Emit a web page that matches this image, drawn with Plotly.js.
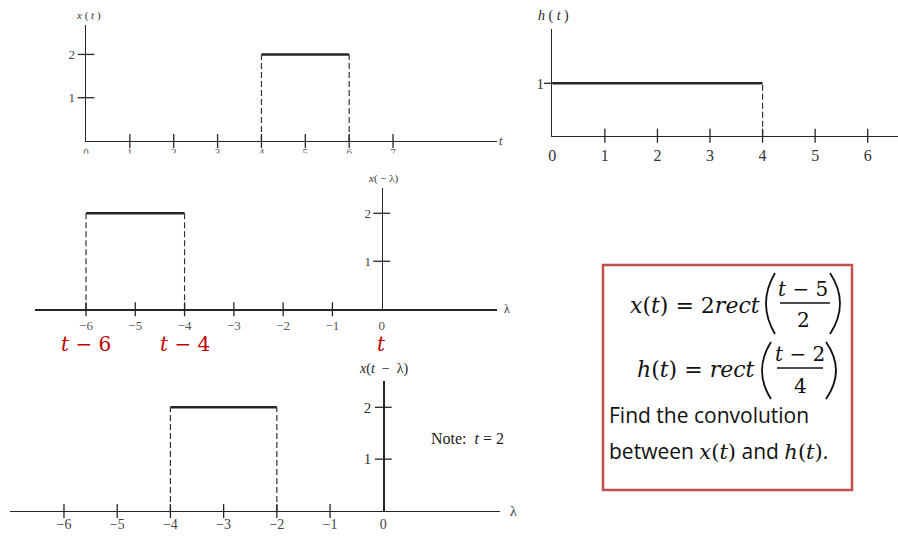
<!DOCTYPE html>
<html>
<head>
<meta charset="utf-8">
<script src="https://cdn.plot.ly/plotly-3.0.1.min.js"></script>
<style>
  html, body { margin: 0; padding: 0; background: #fff; }
  #chart { width: 898px; height: 539px; }
</style>
</head>
<body>
<div id="chart"></div>
<script>
// ---- signal data ----
// x(t) = 2 rect((t-5)/2)
const xEdges = [4, 6];
const xLevel = 2;
const xTicks = [0, 1, 2, 3, 4, 5, 6, 7];
const xYTicks = [1, 2];

// h(t) = rect((t-2)/4)
const hEdges = [0, 4];
const hLevel = 1;
const hTicks = [0, 1, 2, 3, 4, 5, 6];
const hYTicks = [1];

// x(-lambda)
const revEdges = [-6, -4];
const revLevel = 2;
const lamTicks = [-6, -5, -4, -3, -2, -1, 0];
const lamTickText = ['\u22126', '\u22125', '\u22124', '\u22123', '\u22122', '\u22121', '0'];
const revYTicks = [1, 2];

// x(t - lambda) for t = 2
const shiftEdges = [-4, -2];
const shiftLevel = 2;
const shiftYTicks = [1, 2];

// red markers of the reflected pulse edges
const redPos = [-6, -4, 0];
const redText = ['<i>t</i> \u2212 6', '<i>t</i> \u2212 4', '<i>t</i>'];

// ---- helpers ----
const W = 898, H = 539;
const fx = p => p / W;
const fy = p => 1 - p / H;
const INK = '#262626';
const SERIF = 'Liberation Serif, Times New Roman, serif';
const MATH = "'DejaVu Serif', serif";

function pulse(edges, level, xa, ya) {
  // dashed drops are skipped where they would sit on the vertical axis
  const drops = edges.filter(e => e !== 0);
  const dx = [], dy = [];
  drops.forEach((e, i) => { if (i) { dx.push(null); dy.push(null); } dx.push(e, e); dy.push(0, level); });
  return [
    { x: edges, y: [level, level], xaxis: xa, yaxis: ya, mode: 'lines',
      line: { color: INK, width: 2.6 }, cliponaxis: false },
    { x: dx, y: dy, xaxis: xa, yaxis: ya, mode: 'lines',
      line: { color: '#333', width: 1.2, dash: '6px,3px' }, cliponaxis: false }
  ];
}
function xMarks(vals, xa, ya) {
  const v = vals.filter(t => t !== 0);
  return { x: v, y: v.map(() => 0), xaxis: xa, yaxis: ya, mode: 'markers', cliponaxis: false,
    marker: { symbol: 'line-ns', size: 10, color: INK, line: { width: 1.3, color: INK } } };
}
function yMarks(vals, xa, ya) {
  return { x: vals.map(() => 0), y: vals, xaxis: xa, yaxis: ya, mode: 'markers', cliponaxis: false,
    marker: { symbol: 'line-ew', size: 12, color: INK, line: { width: 1.3, color: INK } } };
}

const traces = [
  ...pulse(xEdges, xLevel, 'x', 'y'), xMarks(xTicks, 'x', 'y'), yMarks(xYTicks, 'x', 'y'),
  ...pulse(hEdges, hLevel, 'x2', 'y2'), xMarks(hTicks, 'x2', 'y2'), yMarks(hYTicks, 'x2', 'y2'),
  ...pulse(revEdges, revLevel, 'x3', 'y3'), xMarks(lamTicks, 'x3', 'y3'), yMarks(revYTicks, 'x3', 'y3'),
  ...pulse(shiftEdges, shiftLevel, 'x4', 'y4'), xMarks(lamTicks, 'x4', 'y4'), yMarks(shiftYTicks, 'x4', 'y4')
];

function axBase(extra) {
  return Object.assign({
    showgrid: false, zeroline: false, showline: true, linecolor: INK, linewidth: 1.4,
    ticks: 'outside', tickcolor: 'rgba(0,0,0,0)', fixedrange: true
  }, extra);
}

const layout = {
  width: W, height: H,
  margin: { l: 0, r: 0, t: 0, b: 0 },
  paper_bgcolor: '#fff', plot_bgcolor: 'rgba(0,0,0,0)',
  showlegend: false, hovermode: false,
  // x(t)
  xaxis: axBase({ domain: [fx(86), fx(497)], range: [0, 9.37], anchor: 'y',
    tickvals: xTicks, ticklen: 0, tickfont: { family: SERIF, size: 11, color: '#555' } }),
  yaxis: axBase({ domain: [fy(141), fy(25)], range: [0, 2.68], anchor: 'x',
    tickvals: xYTicks, ticklen: 7, tickfont: { family: SERIF, size: 13, color: '#444' } }),
  // h(t)
  xaxis2: axBase({ domain: [fx(552.3), 1], range: [0, 6.576], anchor: 'y2',
    tickvals: hTicks, ticklen: 5, tickfont: { family: SERIF, size: 16, color: '#333' } }),
  yaxis2: axBase({ domain: [fy(135.7), fy(29)], range: [0, 2.036], anchor: 'x2',
    tickvals: hYTicks, ticklen: 4, tickfont: { family: SERIF, size: 15, color: '#333' } }),
  // x(-lambda)
  xaxis3: axBase({ domain: [fx(35), fx(497)], range: [-7.035, 2.34], anchor: 'y3',
    tickvals: lamTicks, ticktext: lamTickText, ticklen: 4, tickfont: { family: SERIF, size: 13, color: '#555' } }),
  yaxis3: axBase({ domain: [fy(309.3), fy(187.7)], range: [0, 2.533], anchor: 'free', position: fx(381.7),
    tickvals: revYTicks, ticklen: 8, tickfont: { family: SERIF, size: 13, color: '#444' } }),
  // x(t - lambda)
  xaxis4: axBase({ domain: [fx(10), fx(500)], range: [-7.014, 2.193], anchor: 'y4',
    tickvals: lamTicks, ticktext: lamTickText, ticklen: 0, tickfont: { family: SERIF, size: 14, color: '#444' } }),
  yaxis4: axBase({ domain: [fy(511), fy(381)], range: [0, 2.507], anchor: 'free', position: fx(383.3),
    tickvals: shiftYTicks, ticklen: 9, tickfont: { family: SERIF, size: 15, color: '#333' } }),
  shapes: [],
  annotations: []
};

const ann = (px, py, text, size, opts) => Object.assign({
  xref: 'paper', yref: 'paper', x: fx(px), y: fy(py), text: text, showarrow: false,
  xanchor: 'center', yanchor: 'middle', font: { family: SERIF, size: size, color: '#333' }
}, opts || {});

// axis names
layout.annotations.push(
  ann(88, 15, '<i>x</i> ( <i>t</i> )', 11),
  ann(501, 141, '<i>t</i>', 12),
  ann(553, 16, '<i>h</i> ( <i>t</i> )', 14, { font: { family: SERIF, size: 14, color: '#222' } }),
  ann(383, 178, '<i>x</i>( \u2212 \u03bb)', 11),
  ann(507, 309, '\u03bb', 12),
  ann(383, 369, '<i>x</i>(<i>t</i>  \u2212  \u03bb)', 14, { font: { family: SERIF, size: 14, color: '#222' } }),
  ann(513, 511, '\u03bb', 14),
  ann(467, 438, 'Note:  <i>t</i> = 2', 16, { font: { family: SERIF, size: 16, color: '#222' } })
);

// red edge labels on the lambda axis
redPos.forEach((v, i) => layout.annotations.push({
  xref: 'x3', yref: 'paper', x: v, y: fy(344), text: redText[i], showarrow: false,
  xanchor: 'center', yanchor: 'middle', font: { family: MATH, size: 20, color: '#c00000' }
}));

// the top plot's tick numbers are cut through by the page edge
layout.shapes.push({ type: 'rect', xref: 'paper', yref: 'paper', layer: 'above',
  x0: fx(65), x1: fx(420), y0: fy(153.5), y1: fy(166), fillcolor: '#fff', line: { width: 0 } });

// problem statement box
layout.shapes.push({ type: 'rect', xref: 'paper', yref: 'paper',
  x0: fx(603), x1: fx(852), y0: fy(265), y1: fy(490),
  line: { color: '#c0504d', width: 2.5 }, fillcolor: 'rgba(0,0,0,0)' });

function paren(xTop, xMid, yTop, yBot) {
  const ym = (yTop + yBot) / 2;
  const cx = 2 * xMid - xTop;
  return { type: 'path', xref: 'paper', yref: 'paper',
    path: `M ${fx(xTop)} ${fy(yTop)} Q ${fx(cx)} ${fy(ym)} ${fx(xTop)} ${fy(yBot)}`,
    line: { color: '#111', width: 1.8 } };
}
function bar(x0, x1, y) {
  return { type: 'line', xref: 'paper', yref: 'paper', x0: fx(x0), x1: fx(x1), y0: fy(y), y1: fy(y),
    line: { color: '#111', width: 1.6 } };
}
layout.shapes.push(
  paren(775, 766, 273, 334), paren(830, 840, 273, 334), bar(780, 830, 303),
  paren(771, 762, 342, 399), paren(826, 836, 342, 399), bar(777, 823, 368)
);

const mathFont = s => ({ family: MATH, size: s, color: '#111' });
const SANS = "'Open Sans', sans-serif";
layout.annotations.push(
  ann(628, 305, '<i>x</i>(<i>t</i>) = 2<i>rect</i>', 22, { xanchor: 'left', font: mathFont(22) }),
  ann(803, 289, '<i>t</i> \u2212 5', 20, { font: mathFont(20) }),
  ann(803, 320, '2', 20, { font: mathFont(20) }),
  ann(635, 369, '<i>h</i>(<i>t</i>) = <i>rect</i>', 22, { xanchor: 'left', font: mathFont(22) }),
  ann(800, 354, '<i>t</i> \u2212 2', 20, { font: mathFont(20) }),
  ann(800, 386, '4', 20, { font: mathFont(20) }),
  ann(607, 415, 'Find the convolution', 21, { xanchor: 'left', font: { family: SANS, size: 21, color: '#111' } }),
  ann(607, 451, 'between <span style="font-family:\'DejaVu Serif\'"><i>x</i>(<i>t</i>)</span> and <span style="font-family:\'DejaVu Serif\'"><i>h</i>(<i>t</i>)</span>.', 21,
    { xanchor: 'left', font: { family: SANS, size: 21, color: '#111' } })
);

Plotly.newPlot('chart', traces, layout, { staticPlot: true, displayModeBar: false });
</script>
</body>
</html>
